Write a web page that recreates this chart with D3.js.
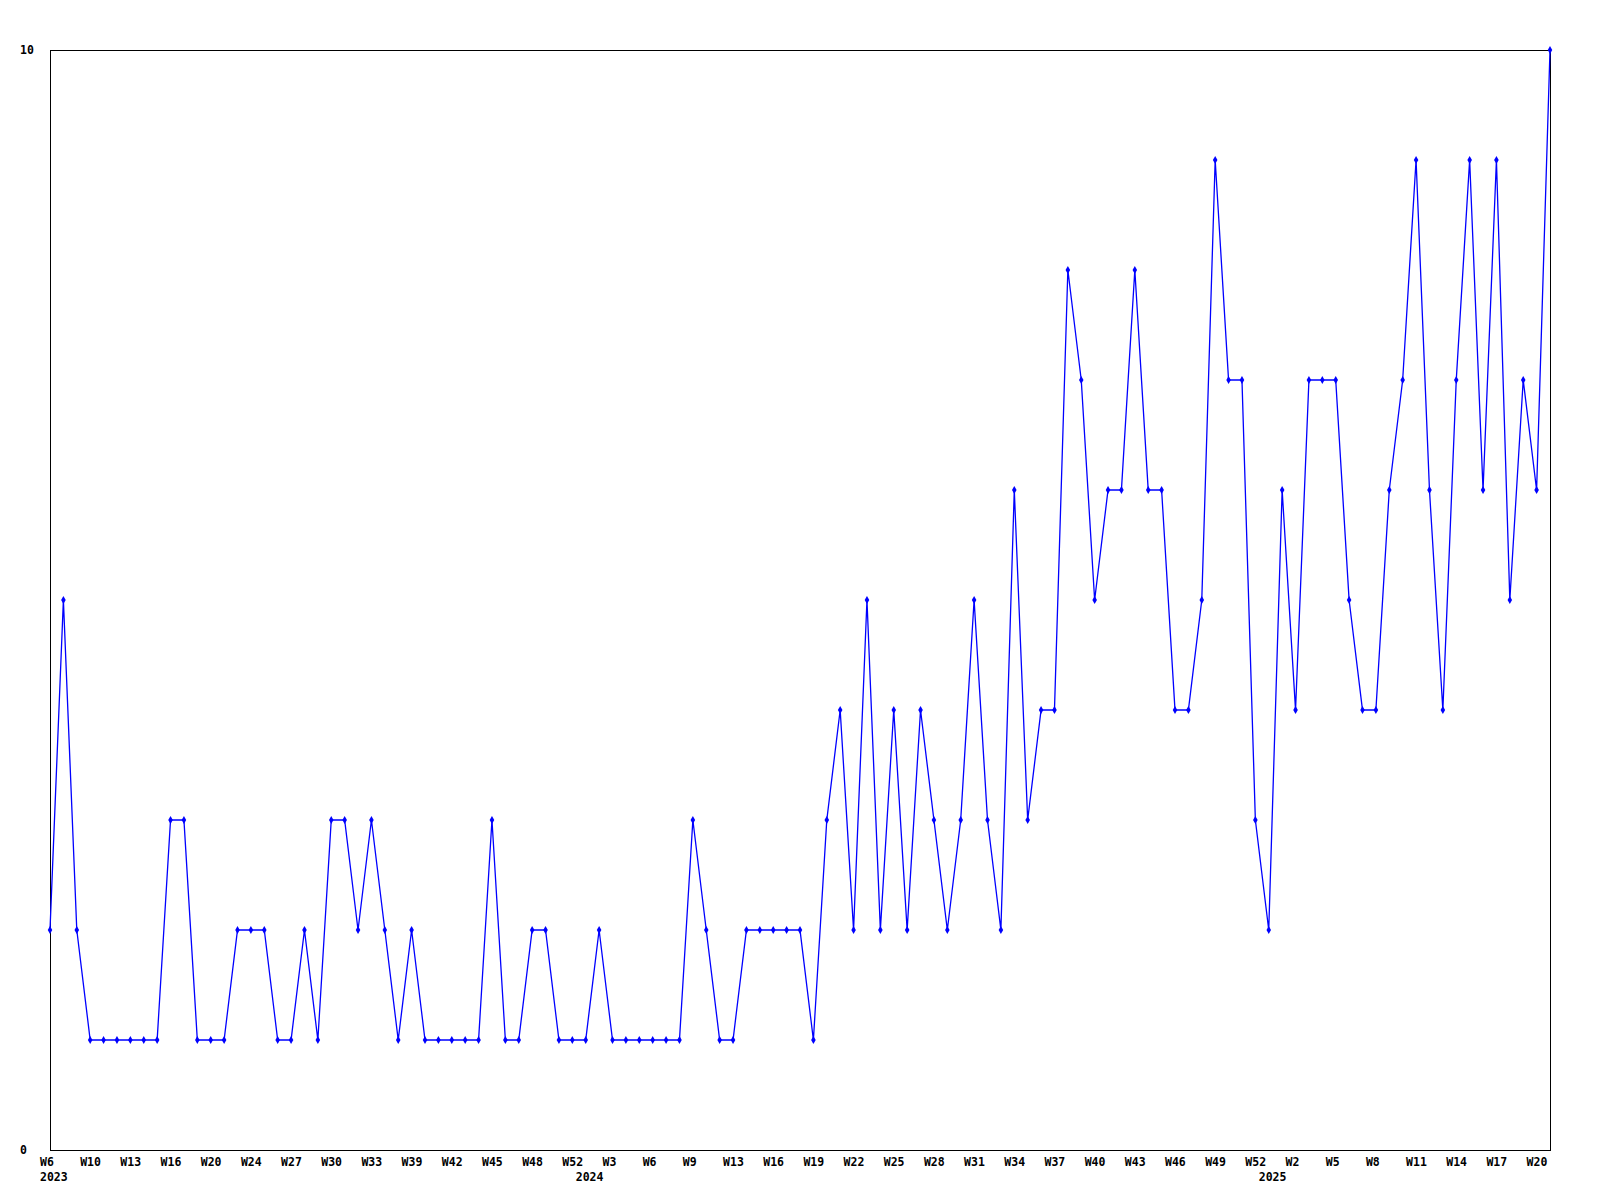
<!DOCTYPE html>
<html>
<head>
<meta charset="utf-8">
<script src="https://cdn.jsdelivr.net/npm/d3@7"></script>
<style>
  html, body { margin: 0; padding: 0; background: #fff; }
  svg { display: block; }
  text { font-family: "DejaVu Sans Mono", "Liberation Mono", monospace; font-weight: bold; font-size: 11.5px; fill: #000; }
</style>
</head>
<body>
<svg id="chart" width="1600" height="1200"></svg>
<script>
// ---- data ----
const weeks2023 = [6,7,9,10,11,12,13,14,15,16,17,19,20,21,23,24,25,26,27,28,29,30,31,32,33,34,38,39,40,41,42,43,44,45,46,47,48,49,51,52];
const weeks2024 = [1,2,3,4,5,6,7,8,9,10,12,13,14,15,16,17,18,19,20,21,22,23,24,25,26,27,28,29,30,31,32,33,34,35,36,37,38,39,40,41,42,43,44,45,46,47,48,49,50,51,52];
const weeks2025 = [0,1,2,3,4,5,6,7,8,9,10,11,12,13,14,15,16,17,18,19,20,21];
const years = ["2023", "2024", "2025"];
const values = [
  2,5,2,1,1,1,1,1,1,3,
  3,1,1,1,2,2,2,1,1,2,
  1,3,3,2,3,2,1,2,1,1,
  1,1,1,3,1,1,2,2,1,1,
  1,2,1,1,1,1,1,1,3,2,
  1,1,2,2,2,2,2,1,3,4,
  2,5,2,4,2,4,3,2,3,5,
  3,2,6,3,4,4,8,7,5,6,
  6,8,6,6,4,4,5,9,7,7,
  3,2,6,4,7,7,7,5,4,4,
  6,7,9,6,4,7,9,6,9,5,
  7,6,10
];
const yTicks = [0, 10];
const labelEvery = 3;

// ---- build category table ----
const cats = [];
[weeks2023, weeks2024, weeks2025].forEach((wk, yi) => {
  wk.forEach((w, j) => cats.push({ year: years[yi], week: "W" + w, firstOfYear: j === 0 }));
});
const data = cats.map((c, i) => ({ ...c, i, v: values[i] }));

// ---- layout ----
const mLeft = 50, mRight = 1550, mTop = 50, mBottom = 1150;
const svg = d3.select("#chart");

const x = d3.scalePoint().domain(d3.range(data.length)).range([mLeft, mRight]);
const y = d3.scaleLinear().domain([0, 10]).range([mBottom, mTop]);

// frame
svg.append("rect")
  .attr("x", mLeft + 0.5).attr("y", mTop + 0.5)
  .attr("width", mRight - mLeft).attr("height", mBottom - mTop)
  .attr("fill", "none").attr("stroke", "#000").attr("stroke-width", 1);

// y labels
svg.selectAll("text.ylab").data(yTicks).join("text")
  .attr("class", "ylab")
  .attr("x", 20)
  .attr("y", d => y(d) + 4)
  .text(d => d);

// x week labels
svg.selectAll("text.xlab").data(data.filter(d => d.i % labelEvery === 0)).join("text")
  .attr("class", "xlab")
  .attr("x", d => x(d.i) - 10)
  .attr("y", 1166)
  .text(d => d.week);

// year labels
svg.selectAll("text.yr").data(data.filter(d => d.firstOfYear)).join("text")
  .attr("class", "yr")
  .attr("x", d => x(d.i) - 10)
  .attr("y", 1181)
  .text(d => d.year);

// line
const line = d3.line().x(d => x(d.i)).y(d => y(d.v));
svg.append("path")
  .datum(data)
  .attr("d", line)
  .attr("fill", "none")
  .attr("stroke", "#0000ff")
  .attr("stroke-width", 1.3);

// markers
const sym = d3.symbol().type(d3.symbolDiamond).size(18);
svg.selectAll("path.mk").data(data).join("path")
  .attr("class", "mk")
  .attr("transform", d => `translate(${x(d.i)},${y(d.v)})`)
  .attr("d", sym)
  .attr("fill", "#0000ff");
</script>
</body>
</html>
